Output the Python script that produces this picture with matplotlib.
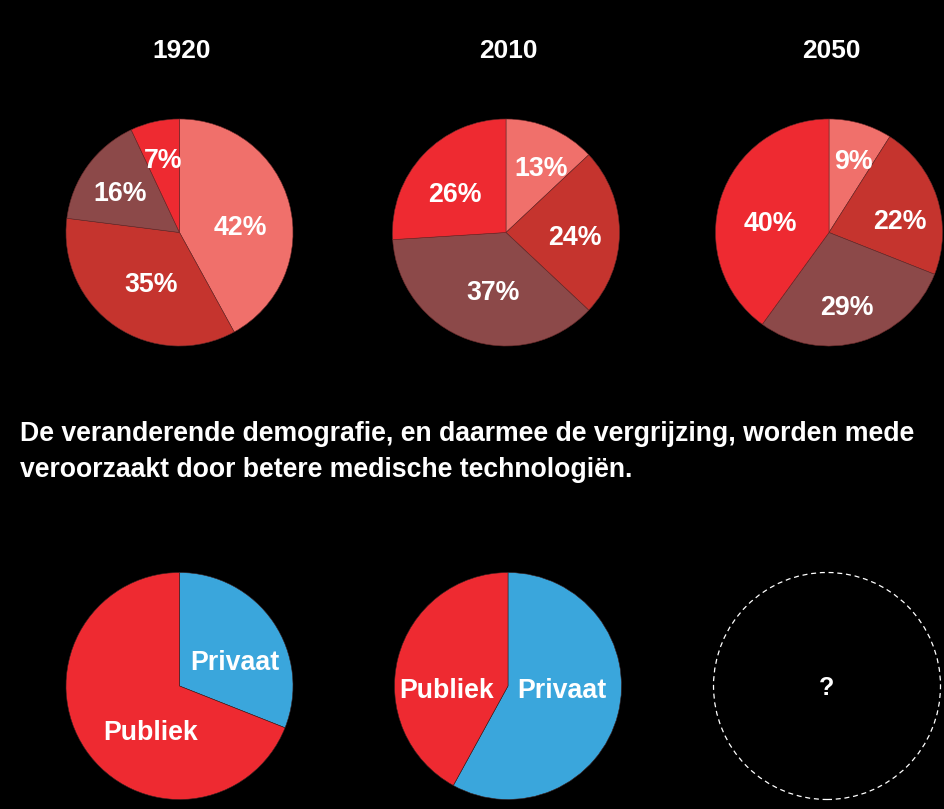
import numpy as np
import matplotlib
matplotlib.use("Agg")
import matplotlib.pyplot as plt
from matplotlib.patches import Circle

plt.rcParams['font.family'] = ['Liberation Sans', 'DejaVu Sans']

# data
years = ['1920', '2010', '2050']
share_1920 = [42, 35, 16, 7]
share_2010 = [13, 24, 37, 26]
share_2050 = [9, 22, 29, 40]
funding_labels = ['Privaat', 'Publiek']
funding_1 = [31, 69]
funding_2 = [58, 42]
caption = ["De veranderende demografie, en daarmee de vergrijzing, worden mede",
           "veroorzaakt door betere medische technologiën."]

# styles
age_colors = ['#F0706B', '#C5342E', '#8C4949', '#EE2A31']
fund_colors = ['#3AA6DC', '#EE2A31']
W, H = 944, 809
R = 113.5
top_y = H - 232.5
bot_y = H - 686
top_x = [179.5, 506, 829]
bot_x = [179.5, 508, 827]
LBL = 19.3
CAP = 0.716 * LBL * 100 / 72 / 2   # half cap height in px, to centre caps
# label offsets from the pie centre (px, y up)
top_offsets = [[(60.5, 7.5), (-28.5, -49.5), (-59, 41), (-16, 74.5)],
               [(35, 66.5), (69, -2.5), (-12.5, -57.5), (-51, 40.5)],
               [(24.5, 73.5), (71, 13), (17.5, -73), (-59, 11)]]
bot_offsets = [[(55.5, 26), (-28.5, -44.5)],
               [(53.5, -2.5), (-61, -2.5)]]

fig = plt.figure(figsize=(W / 100, H / 100), dpi=100, facecolor='black')
ax = fig.add_axes([0, 0, 1, 1])
ax.set_facecolor('black')
ax.axis('off')

for i, vals in enumerate([share_1920, share_2010, share_2050]):
    cx = top_x[i]
    ax.pie(vals, colors=age_colors, startangle=90, counterclock=False,
           center=(cx, top_y), radius=R,
           wedgeprops=dict(linewidth=0.4, edgecolor='#6a2a2a'))
    for v, (dx, dy) in zip(vals, top_offsets[i]):
        ax.text(cx + dx, top_y + dy - CAP, f'{v}%', color='white',
                fontsize=LBL, fontweight='bold', ha='center', va='baseline')
    ax.text(cx + 2.5, H - 57.5, years[i], color='white', fontsize=19,
            fontweight='bold', ha='center', va='baseline')

for k, line in enumerate(caption):
    ax.text(20, H - 441 - 36 * k, line, color='white', fontsize=19.2,
            fontweight='bold', ha='left', va='baseline')

for i, vals in enumerate([funding_1, funding_2]):
    cx = bot_x[i]
    ax.pie(vals, colors=fund_colors, startangle=90, counterclock=False,
           center=(cx, bot_y), radius=R,
           wedgeprops=dict(linewidth=0.4, edgecolor='#3a2020'))
    for lab, (dx, dy) in zip(funding_labels, bot_offsets[i]):
        ax.text(cx + dx, bot_y + dy - CAP, lab, color='white', fontsize=LBL,
                fontweight='bold', ha='center', va='baseline')

ax.add_patch(Circle((bot_x[2], bot_y), R, fill=False, edgecolor='white',
                    linestyle=(0, (4, 3)), linewidth=0.9))
ax.text(bot_x[2], bot_y - 9, '?', color='white', fontsize=18, fontweight='bold',
        ha='center', va='baseline')

ax.set_xlim(0, W)
ax.set_ylim(0, H)
ax.set_aspect('auto')
fig.savefig('out.png', dpi=100, facecolor='black')
